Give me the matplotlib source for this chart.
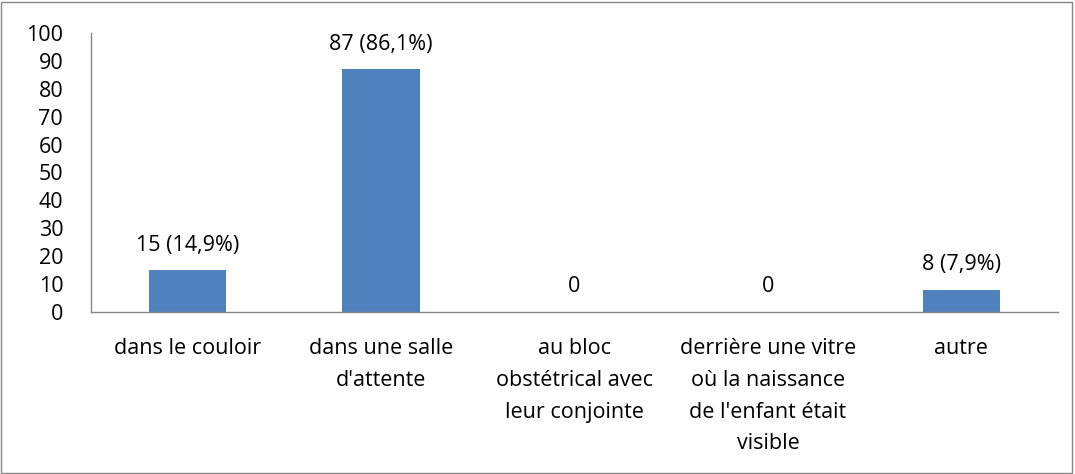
import matplotlib.pyplot as plt
from matplotlib.patches import Rectangle

categories = [
    "dans le couloir",
    "dans une salle\nd'attente",
    "au bloc\nobstétrical avec\nleur conjointe",
    "derrière une vitre\noù la naissance\nde l'enfant était\nvisible",
    "autre",
]
counts = [15, 87, 0, 0, 8]
labels = ["15 (14,9%)", "87 (86,1%)", "0", "0", "8 (7,9%)"]
yticks = list(range(0, 101, 10))

plt.rcParams["font.family"] = ["Open Sans", "DejaVu Sans"]
fs = 15.5

fig = plt.figure(figsize=(10.75, 4.74), dpi=100)
ax = fig.add_axes([91 / 1075, 1 - 312 / 474, (1058 - 91) / 1075, (312 - 33) / 474])

x = list(range(len(categories)))
bars = ax.bar(x, counts, width=0.4, color="#4F81BD")

for xi, c, lab in zip(x, counts, labels):
    ax.annotate(lab, (xi, c), xytext=(0, 18), textcoords="offset points",
                ha="center", va="center", fontsize=fs)

ax.set_xlim(-0.5, len(categories) - 0.5)
ax.set_ylim(0, 100)
ax.set_yticks(yticks)
ax.set_xticks(x)
ax.set_xticklabels(categories, fontsize=fs, linespacing=1.66, va="top")
ax.tick_params(axis="y", length=0, pad=20, labelsize=fs)
ax.tick_params(axis="x", length=0, pad=19)

for side in ["top", "right"]:
    ax.spines[side].set_visible(False)
for side in ["left", "bottom"]:
    ax.spines[side].set_color("#868686")
    ax.spines[side].set_linewidth(1.0)

fig.patches.append(Rectangle((1 / 1075, 1 / 474), 1071 / 1075, 471 / 474,
                             transform=fig.transFigure, fill=False,
                             edgecolor="#868686", linewidth=1.0))

fig.savefig("out.png", dpi=100)
